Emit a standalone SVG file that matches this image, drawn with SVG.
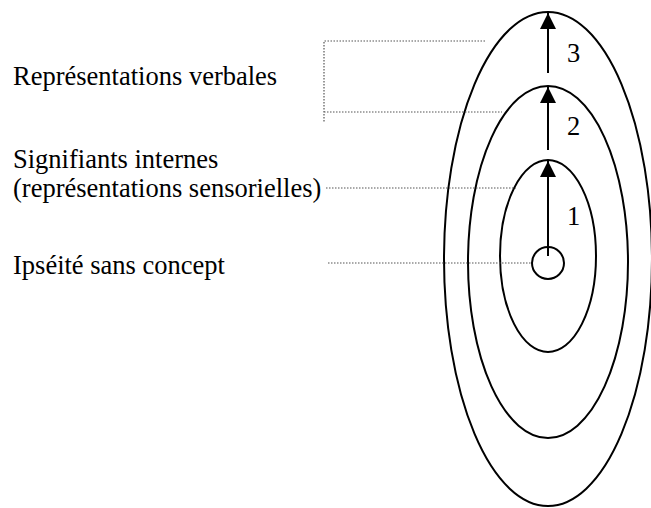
<svg xmlns="http://www.w3.org/2000/svg" width="651" height="508" viewBox="0 0 651 508">
<defs>
<style>
.t{font-family:"Times New Roman","Liberation Serif","DejaVu Serif","Noto Serif",serif;font-size:26.5px;fill:#000}
.e{fill:none;stroke:#000;stroke-width:2}
.d{fill:none;stroke:#555;stroke-width:1.2;stroke-dasharray:1.5 1.5}
.a{stroke:#000;stroke-width:2;fill:none}
</style>
<marker id="ah" viewBox="0 0 16 16" refX="16" refY="8" markerWidth="16" markerHeight="16" markerUnits="userSpaceOnUse" orient="auto">
<path d="M0,0 L16,8 L0,16 Z" fill="#000"/>
</marker>
</defs>
<g id="outer"><ellipse class="e" cx="548" cy="259" rx="104" ry="247"/></g>
<g id="middle"><ellipse class="e" cx="548" cy="262" rx="80" ry="176"/></g>
<g id="inner"><ellipse class="e" cx="548" cy="256" rx="48" ry="96"/></g>
<g id="core"><circle class="e" cx="548" cy="263" r="16"/></g>
<g id="label-verbales"><text class="t" x="13" y="85">Représentations verbales</text></g>
<g id="label-signifiants"><text class="t" x="13" y="168">Signifiants internes</text><text class="t" x="13" y="197">(représentations sensorielles)</text></g>
<g id="label-ipseite"><text class="t" x="13" y="274">Ipséité sans concept</text></g>
<g id="connectors">
<line class="a" x1="548" y1="256" x2="548" y2="161" marker-end="url(#ah)"/>
<line class="a" x1="548" y1="150" x2="548" y2="87" marker-end="url(#ah)"/>
<line class="a" x1="548" y1="73" x2="548" y2="13" marker-end="url(#ah)"/>
<path class="d" d="M485,41 H324 V122 M324,112 H502"/>
<path class="d" d="M326,188 H516"/>
<path class="d" d="M328,263 H532"/>
</g>
<g id="numbers">
<text class="t" x="567" y="62">3</text>
<text class="t" x="567" y="135">2</text>
<text class="t" x="567" y="225">1</text>
</g>
</svg>
